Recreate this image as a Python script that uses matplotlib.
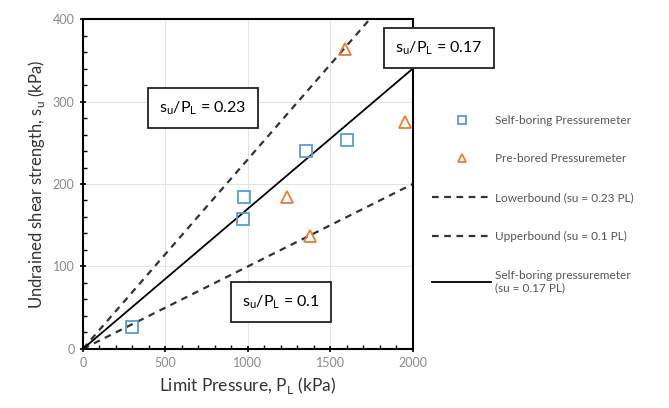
import matplotlib
matplotlib.use("Agg")
import matplotlib.pyplot as plt
import numpy as np
from matplotlib.ticker import MultipleLocator

plt.rcParams['font.family'] = ['Lato', 'DejaVu Sans']

# self-boring pressuremeter tests
sbp_pl = [300, 975, 970, 1350, 1600]
sbp_su = [27, 184, 158, 240, 254]
# pre-bored pressuremeter tests
pbp_pl = [1590, 1240, 1375, 1950]
pbp_su = [364, 184, 137, 275]

ratio_low = 0.23
ratio_up = 0.1
ratio_sbp = 0.17

blue = "#5B9BD5"
orange = "#ED7D31"

fig = plt.figure(figsize=(6.69, 4.08), dpi=100)
ax = fig.add_axes([0.124, 0.145, 0.493, 0.808])

pl = np.array([0, 2000])
ax.plot(sbp_pl, sbp_su, ls="none", marker="s", ms=8, mfc="none", mec=blue, mew=1.3,
        label="Self-boring Pressuremeter", zorder=4)
ax.plot(pbp_pl, pbp_su, ls="none", marker="^", ms=8, mfc="none", mec=orange, mew=1.3,
        label="Pre-bored Pressuremeter", zorder=4)
ax.plot(pl, ratio_low * pl, color="#333333", ls=(0, (3, 2.5)), lw=1.6,
        label="Lowerbound (su = 0.23 PL)")
ax.plot(pl, ratio_up * pl, color="#333333", ls=(0, (3, 2.5)), lw=1.6,
        label="Upperbound (su = 0.1 PL)")
ax.plot(pl, ratio_sbp * pl, color="black", lw=1.3,
        label="Self-boring pressuremeter\n(su = 0.17 PL)")

ax.set_xlim(0, 2000)
ax.set_ylim(0, 400)
ax.xaxis.set_major_locator(MultipleLocator(500))
ax.xaxis.set_minor_locator(MultipleLocator(100))
ax.yaxis.set_major_locator(MultipleLocator(100))
ax.yaxis.set_minor_locator(MultipleLocator(20))
ax.grid(True, which="major", color="#e4e4e4", lw=0.8)
ax.tick_params(which="major", direction="inout", length=5, width=1.2, labelsize=9,
               labelcolor="#8a8a8a")
ax.tick_params(which="minor", direction="in", length=3, width=1.0)
for s in ax.spines.values():
    s.set_linewidth(1.5)

ax.set_xlabel("Limit Pressure, P$_\\mathregular{L}$ (kPa)", fontsize=12.5, color="#333333")
ax.set_ylabel("Undrained shear strength, s$_\\mathregular{u}$ (kPa)", fontsize=12,
              color="#333333")

box = dict(boxstyle="square,pad=0.7", fc="white", ec="#222222", lw=1.3)
ax.text(727, 292, "s$_\\mathregular{u}$/P$_\\mathregular{L}$ = 0.23", fontsize=11.5,
        ha="center", va="center", bbox=box, zorder=5)
ax.text(1200, 57, "s$_\\mathregular{u}$/P$_\\mathregular{L}$ = 0.1", fontsize=11.5,
        ha="center", va="center", bbox=box, zorder=5)
ax.text(2160, 365, "s$_\\mathregular{u}$/P$_\\mathregular{L}$ = 0.17", fontsize=11.5,
        ha="center", va="center", bbox=box, zorder=5, clip_on=False)

fig.legend(loc="upper left", bbox_to_anchor=(0.63, 0.745), frameon=False,
           fontsize=8.5, labelcolor="#555555", handlelength=5.0, handletextpad=0.3,
           labelspacing=2.35, markerscale=0.75)

fig.savefig("out.png", dpi=100)
